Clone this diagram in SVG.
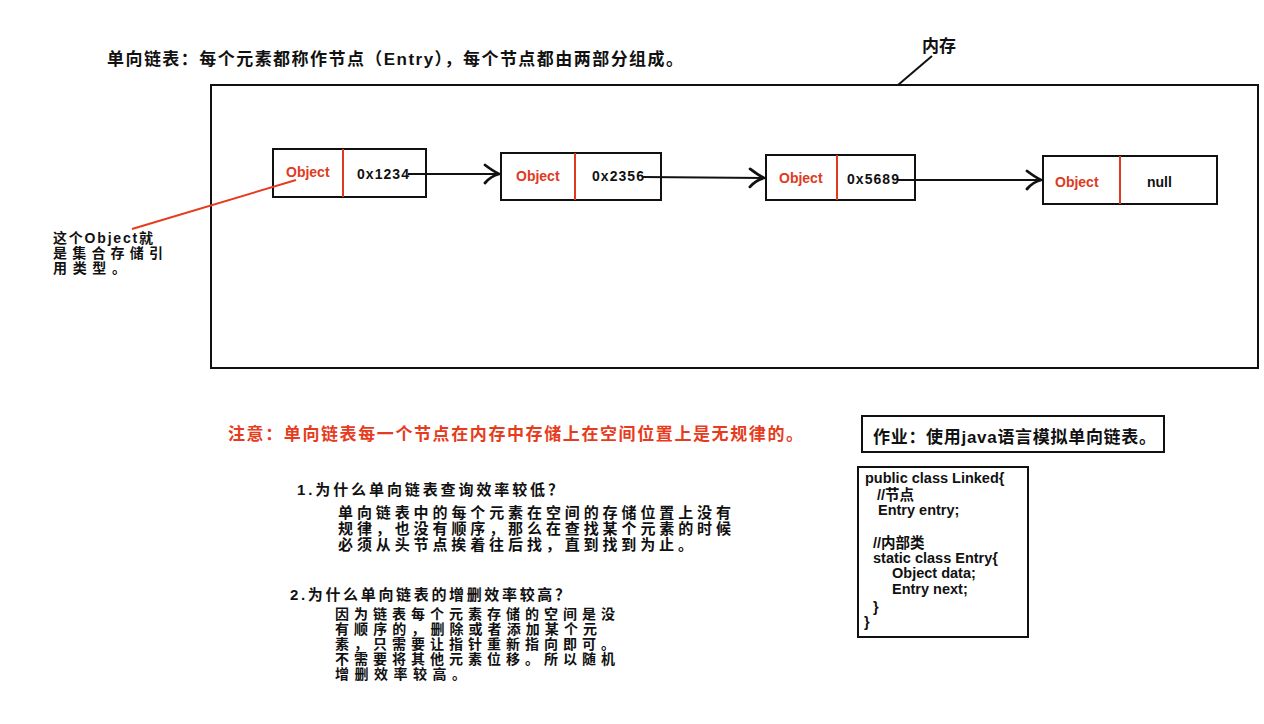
<svg xmlns="http://www.w3.org/2000/svg" width="1264" height="724" viewBox="0 0 1264 724">
<style>
  .cjk { font-family: "Liberation Sans", "Noto Sans CJK SC", sans-serif; font-weight: bold; }
  .title { font-size: 17px; fill: #111; }
  .red { fill: #e63c1e; }
  .body { font-size: 15px; fill: #111; }
  .tight { font-size: 14px; }
  .box { fill: #fff; stroke: #111; stroke-width: 2; }
  .div { stroke: #e03a1e; stroke-width: 2; }
  .obj { font-family: "Liberation Sans", sans-serif; font-weight: bold; font-size: 14px; fill: #e03a1e; }
  .ptr { font-family: "Liberation Sans", sans-serif; font-weight: bold; font-size: 14px; fill: #111; }
  .code { font-family: "Liberation Sans", "Noto Sans CJK SC", sans-serif; font-weight: bold; font-size: 14.5px; fill: #111; }
  .link { stroke: #111; stroke-width: 2; fill: none; }
</style>
<defs>
  <marker id="chev" markerUnits="userSpaceOnUse" markerWidth="20" markerHeight="22" viewBox="0 0 20 22" refX="18" refY="11" orient="auto">
    <path d="M4,2 Q12,8 18,11 Q10,13 4,20" fill="none" stroke="#111" stroke-width="2.8" stroke-linecap="round"/>
  </marker>
</defs>
<rect width="1264" height="724" fill="#fff"/>

<g id="title">
  <text class="cjk title" x="107" y="65" textLength="576" lengthAdjust="spacing">单向链表：每个元素都称作节点（Entry），每个节点都由两部分组成。</text>
</g>

<g id="memory">
  <rect x="211" y="85" width="1047" height="283" fill="none" stroke="#111" stroke-width="2"/>
  <text class="cjk" x="922" y="52" font-size="17" fill="#111">内存</text>
  <line x1="932" y1="56" x2="898" y2="85" stroke="#111" stroke-width="2"/>
</g>

<g id="node1">
  <rect class="box" x="273" y="149" width="153" height="48"/>
  <line class="div" x1="343" y1="149" x2="343" y2="197"/>
  <text class="obj" x="286" y="177">Object</text>
  <text class="ptr" x="357" y="179" textLength="52" lengthAdjust="spacing">0x1234</text>
</g>
<g id="node2">
  <rect class="box" x="501" y="153" width="160" height="47"/>
  <line class="div" x1="575" y1="153" x2="575" y2="200"/>
  <text class="obj" x="516" y="181">Object</text>
  <text class="ptr" x="592" y="181" textLength="52" lengthAdjust="spacing">0x2356</text>
</g>
<g id="node3">
  <rect class="box" x="766" y="155" width="149" height="45"/>
  <line class="div" x1="837" y1="155" x2="837" y2="200"/>
  <text class="obj" x="779" y="183">Object</text>
  <text class="ptr" x="847" y="184" textLength="52" lengthAdjust="spacing">0x5689</text>
</g>
<g id="node4">
  <rect class="box" x="1043" y="156" width="174" height="48"/>
  <line class="div" x1="1120" y1="156" x2="1120" y2="204"/>
  <text class="obj" x="1055" y="187">Object</text>
  <text class="ptr" x="1147" y="187">null</text>
</g>

<g id="connectors">
  <line class="link" x1="408" y1="174" x2="499" y2="174" marker-end="url(#chev)"/>
  <line class="link" x1="643" y1="177" x2="764" y2="178" marker-end="url(#chev)"/>
  <line class="link" x1="898" y1="180" x2="1041" y2="180" marker-end="url(#chev)"/>
  <line x1="132" y1="229" x2="296" y2="180" stroke="#e63c1e" stroke-width="2"/>
</g>

<g id="ref-note">
  <text class="cjk body tight red" x="53" y="243" textLength="100" lengthAdjust="spacing">这个Object就</text>
  <text class="cjk body tight red" x="53" y="258" textLength="110" lengthAdjust="spacing">是集合存储引</text>
  <text class="cjk body tight red" x="53" y="273" textLength="73" lengthAdjust="spacing">用类型。</text>
</g>

<g id="notice">
  <text class="cjk red" font-size="17" x="228" y="440" textLength="575" lengthAdjust="spacing">注意：单向链表每一个节点在内存中存储上在空间位置上是无规律的。</text>
</g>

<g id="q1">
  <text class="cjk body" x="297" y="495" textLength="266" lengthAdjust="spacing">1.为什么单向链表查询效率较低？</text>
  <text class="cjk body" x="338" y="518" textLength="393" lengthAdjust="spacing">单向链表中的每个元素在空间的存储位置上没有</text>
  <text class="cjk body" x="338" y="534" textLength="393" lengthAdjust="spacing">规律，也没有顺序，那么在查找某个元素的时候</text>
  <text class="cjk body" x="338" y="550" textLength="355" lengthAdjust="spacing">必须从头节点挨着往后找，直到找到为止。</text>
</g>

<g id="q2">
  <text class="cjk body" x="290" y="600" textLength="280" lengthAdjust="spacing">2.为什么单向链表的增删效率较高？</text>
  <text class="cjk body tight" x="335" y="619" textLength="280" lengthAdjust="spacing">因为链表每个元素存储的空间是没</text>
  <text class="cjk body tight" x="335" y="634" textLength="262" lengthAdjust="spacing">有顺序的，删除或者添加某个元</text>
  <text class="cjk body tight" x="335" y="649" textLength="280" lengthAdjust="spacing">素，只需要让指针重新指向即可。</text>
  <text class="cjk body tight" x="335" y="664" textLength="280" lengthAdjust="spacing">不需要将其他元素位移。所以随机</text>
  <text class="cjk body tight" x="335" y="679" textLength="131" lengthAdjust="spacing">增删效率较高。</text>
</g>

<g id="homework">
  <rect x="862" y="416" width="302" height="36" fill="#fff" stroke="#111" stroke-width="2"/>
  <text class="cjk" font-size="17" fill="#111" x="873" y="443" textLength="283" lengthAdjust="spacing">作业：使用java语言模拟单向链表。</text>
</g>

<g id="code">
  <rect x="858" y="467" width="170" height="170" fill="#fff" stroke="#111" stroke-width="2"/>
  <text class="code" x="865" y="483">public class Linked{</text>
  <text class="code" x="877" y="500">//节点</text>
  <text class="code" x="878" y="515">Entry entry;</text>
  <text class="code" x="873" y="548">//内部类</text>
  <text class="code" x="873" y="563">static class Entry{</text>
  <text class="code" x="892" y="578">Object data;</text>
  <text class="code" x="892" y="594">Entry next;</text>
  <text class="code" x="873" y="612">}</text>
  <text class="code" x="864" y="627">}</text>
</g>
</svg>
